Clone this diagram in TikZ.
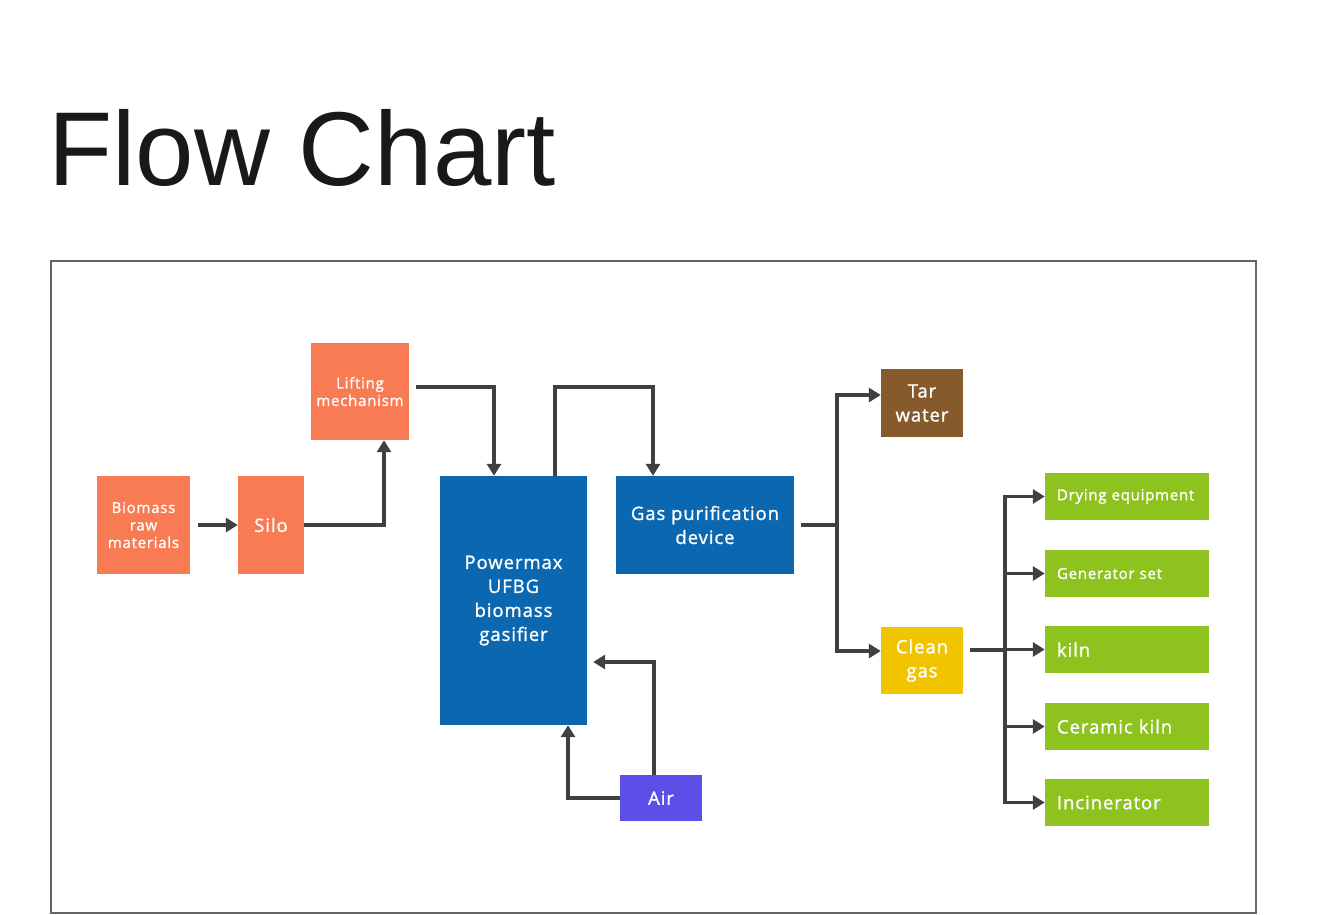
\documentclass[tikz,border=0pt]{standalone}
\usepackage{fontspec}
\setmainfont{Open Sans}[FakeBold=1.2, LetterSpace=5]
\newfontfamily\titlefont{Liberation Sans}
\usetikzlibrary{arrows.meta}
\definecolor{coral}{HTML}{F97B53}
\definecolor{fblue}{HTML}{0B67B0}
\definecolor{tarc}{HTML}{875A2E}
\definecolor{gold}{HTML}{F1C400}
\definecolor{lgreen}{HTML}{8DC21F}
\definecolor{airc}{HTML}{5B4FE8}
\definecolor{arrc}{HTML}{404040}
\definecolor{framec}{HTML}{666666}
\tikzset{
  box/.style={draw=none, inner sep=0pt, text=white, align=center},
  sm/.style={font=\fontsize{15}{17.5}\selectfont},
  md/.style={font=\fontsize{18.5}{24}\selectfont},
  gbox/.style={box, fill=lgreen, minimum width=164pt, minimum height=47pt, text width=140pt, align=left},
  lnk/.style={draw=arrc, line width=3.5pt},
  arr/.style={lnk, -{Triangle[length=12pt,width=14pt]}},
}
\begin{document}
\begin{tikzpicture}[x=1pt,y=-1pt]
\useasboundingbox (0,0) rectangle (1318,914);
\node[anchor=base west, inner sep=0pt, font=\titlefont\fontsize{105}{110}\selectfont, text=black!90] (title) at (48,185) {Flow Chart};
\draw[draw=framec, line width=1.2pt] (51,261) rectangle (1256,913);

\node[box, sm, fill=coral, minimum width=93pt, minimum height=98pt] (bio) at (143.5,525) {Biomass\\raw\\materials};
\node[box, md, fill=coral, minimum width=66pt, minimum height=98pt] (silo) at (271,525) {Silo};
\node[box, sm, fill=coral, minimum width=98pt, minimum height=97pt] (lift) at (360,391.5) {Lifting\\mechanism};
\node[box, md, fill=fblue, minimum width=147pt, minimum height=249pt] (pmx) at (513.5,600.5) {Powermax\\UFBG\\biomass\\gasifier};
\node[box, md, fill=fblue, minimum width=178pt, minimum height=98pt] (gas) at (705,525) {Gas purification\\device};
\node[box, md, fill=tarc, minimum width=82pt, minimum height=68pt] (tar) at (922,403) {Tar\\water};
\node[box, md, fill=gold, minimum width=82pt, minimum height=67pt] (clean) at (922,660.5) {Clean\\gas};
\node[box, md, fill=airc, minimum width=82pt, minimum height=46pt] (air) at (661,798) {Air};
\node[gbox, sm] (g1) at (1127,496.5) {Drying equipment};
\node[gbox, sm] (g2) at (1127,573.5) {Generator set};
\node[gbox, md] (g3) at (1127,649.5) {kiln};
\node[gbox, md] (g4) at (1127,726.5) {Ceramic kiln};
\node[gbox, md] (g5) at (1127,802.5) {Incinerator};

\draw[arr] ([xshift=8pt]bio.east) -- (silo.west);
\draw[arr] (silo.east) -| ([xshift=24pt]lift.south);
\draw[arr] ([xshift=7pt,yshift=4.5pt]lift.east) -| ([xshift=-19.5pt]pmx.north);
\draw[arr] ([xshift=41.5pt]pmx.north) -- ++(0,-89) -| ([xshift=-52pt]gas.north);
\coordinate (split) at (837,525);
\draw[lnk] ([xshift=7pt]gas.east) -- (split);
\draw[arr] (split) |- ([yshift=8pt]tar.west);
\draw[arr] (split) |- ([yshift=9.5pt]clean.west);
\coordinate (hub) at (1005,650);
\draw[lnk] ([xshift=7pt,yshift=10.5pt]clean.east) -- (hub);
\foreach \g in {g1,g2,g3,g4,g5} \draw[arr] (hub) |- (\g.west);
\draw[arr] (air.west) -| ([xshift=54.5pt]pmx.south);
\draw[arr] ([xshift=-7pt]air.north) |- ([xshift=6pt,yshift=-61.5pt]pmx.east);
\end{tikzpicture}
\end{document}
